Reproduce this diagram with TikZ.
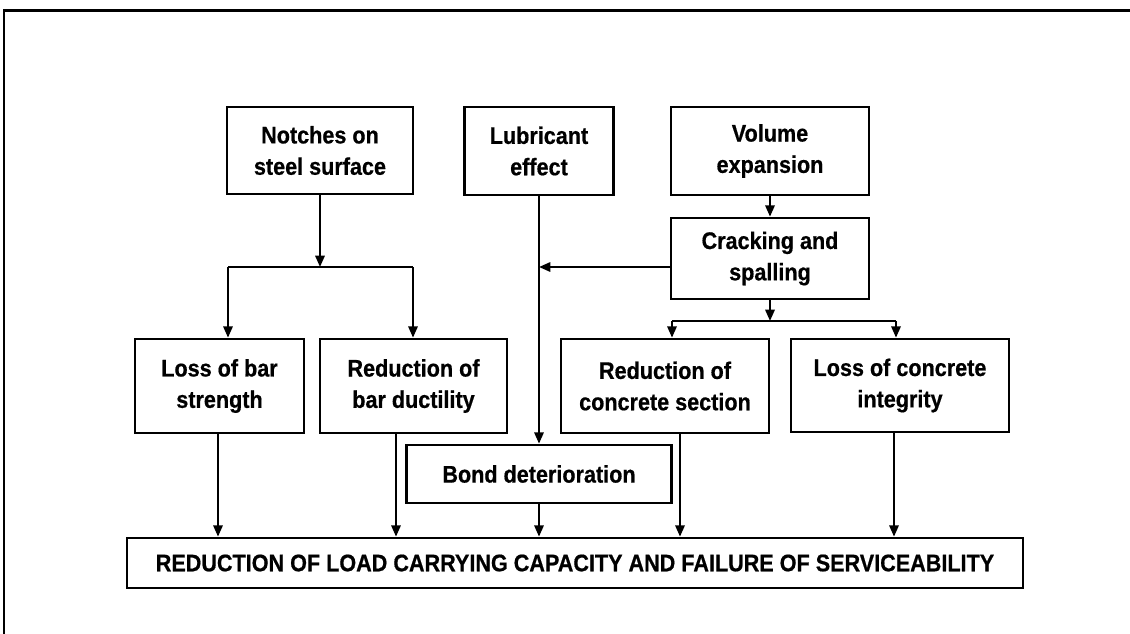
\documentclass[tikz,border=0pt]{standalone}
\usepackage{fontspec}
\setmainfont{Liberation Sans}[FakeStretch=0.9,FakeBold=0.6]
\usetikzlibrary{arrows.meta}
\begin{document}
\begin{tikzpicture}[x=0.75pt,y=-0.75pt,
  bx/.style 2 args={draw,line width=2pt,inner sep=0pt,align=center,
    minimum width=#1*0.75pt,minimum height=#2*0.75pt,
    font=\fontsize{18}{23.5}\selectfont\bfseries},
  arr/.style={line width=1.6pt,-{Triangle[length=8.5pt,width=7pt]}},
  ln/.style={line width=1.6pt},
  frame/.style={line width=2pt}]
\useasboundingbox (0,0) rectangle (1130,633);
\draw[frame] (4,650) -- (4,10.5) -- (1150,10.5);

\node[bx={186}{87}] (notch) at (320,150.5) {Notches on\\steel surface};
\node[bx={149}{88}] (lub) at (539,151) {Lubricant\\effect};
\node[bx={198}{88}] (vol) at (770,151) {Volume\\expansion};
\node[bx={198}{81}] (crack) at (770,258.5) {Cracking and\\spalling};
\node[bx={169}{94}] (lossbar) at (219.5,386) {Loss of bar\\strength};
\node[bx={187}{94}] (redbar) at (413.5,386) {Reduction of\\bar ductility};
\node[bx={208}{94}] (redcon) at (665,386) {Reduction of\\concrete section};
\node[bx={218}{93}] (losscon) at (900,385.5) {Loss of concrete\\integrity};
\node[bx={265}{58}] (bond) at (539,474) {Bond deterioration};
\node[bx={896}{50}] (final) at (575,563) {REDUCTION OF LOAD CARRYING CAPACITY AND FAILURE OF SERVICEABILITY};

% notches split
\coordinate (nbM) at (320,267);
\coordinate (nbL) at (228,267);
\coordinate (nbR) at (413,267);
\draw[arr] (notch.south) -- (nbM);
\draw[ln] (nbL) -- (nbR);
\draw[arr] (nbL) -- (nbL |- lossbar.north);
\draw[arr] (nbR) -- (nbR |- redbar.north);

% lubricant
\draw[arr] (lub.south) -- (lub.south |- bond.north);

% volume -> cracking
\draw[arr] (vol.south) -- (crack.north);

% cracking -> lubricant line
\coordinate (cw) at (671,267);
\draw[arr] (cw) -- (cw -| lub.south);

% cracking split
\coordinate (cbM) at (770,321);
\coordinate (cbL) at (672,321);
\coordinate (cbR) at (896,321);
\draw[arr] (crack.south) -- (cbM);
\draw[ln] (cbL) -- (cbR);
\draw[arr] (cbL) -- (cbL |- redcon.north);
\draw[arr] (cbR) -- (cbR |- losscon.north);

% to final
\coordinate (lbS) at (218,433);
\coordinate (rbS) at (396,433);
\coordinate (rcS) at (680,433);
\coordinate (lcS) at (894,432);
\draw[arr] (lbS) -- (lbS |- final.north);
\draw[arr] (rbS) -- (rbS |- final.north);
\draw[arr] (bond.south) -- (bond.south |- final.north);
\draw[arr] (rcS) -- (rcS |- final.north);
\draw[arr] (lcS) -- (lcS |- final.north);
\end{tikzpicture}
\end{document}
